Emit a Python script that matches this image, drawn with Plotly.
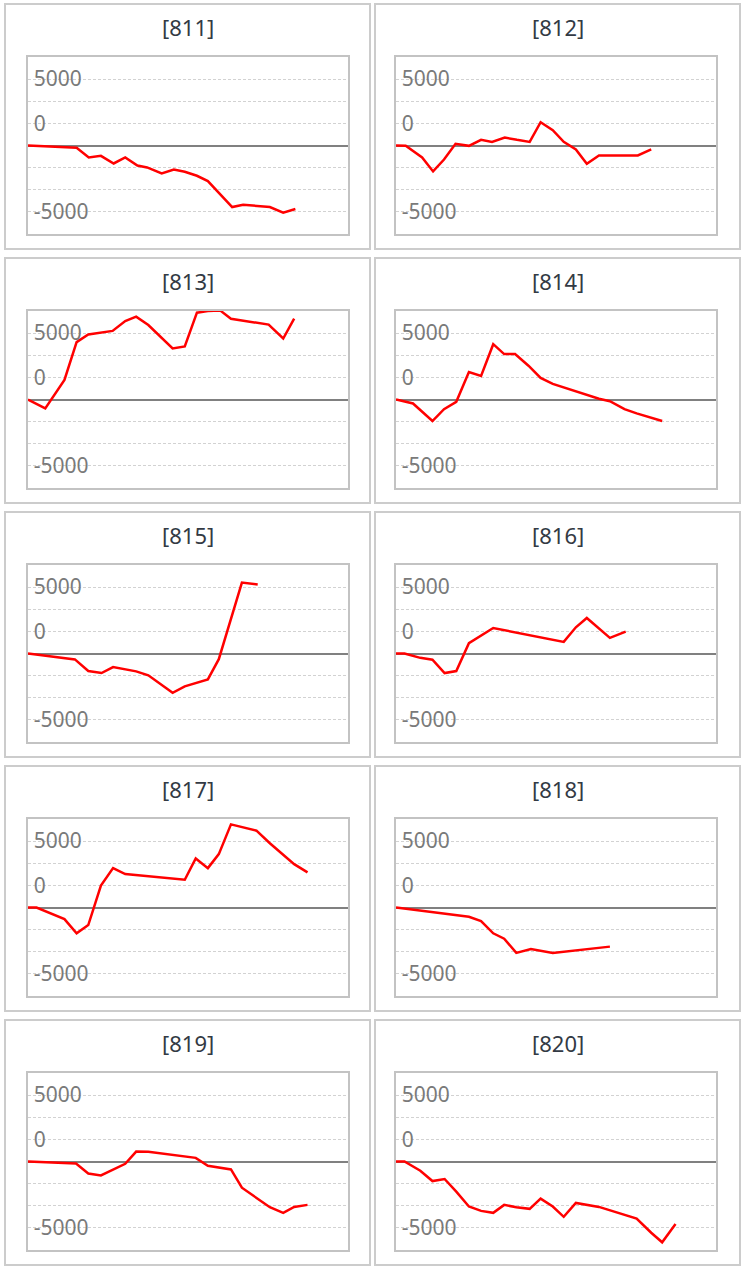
import plotly.graph_objects as go

# ---- data ----
panel_names = ["[811]", "[812]", "[813]", "[814]", "[815]",
               "[816]", "[817]", "[818]", "[819]", "[820]"]

x_811 = [0, 4, 5, 6, 7.05, 8, 9, 9.8, 11, 12, 12.9, 13.9, 14.8, 16.8, 17.7, 18.8, 19.9, 21, 22]
y_811 = [0, -260, -1350, -1170, -2030, -1350, -2260, -2480, -3160, -2710, -2970, -3420, -4020, -6950, -6690, -6840, -6950, -7590, -7180]

x_812 = [0, 0.8, 2.15, 3.05, 3.95, 4.9, 6, 7, 7.9, 8.95, 9.95, 11, 11.9, 12.9, 13.8, 14.8, 15.7, 16.7, 19.9, 21]
y_812 = [0, -40, -1350, -2930, -1580, 190, -40, 640, 410, 900, 640, 410, 2630, 1730, 410, -450, -2070, -1130, -1130, -450]

x_813 = [0, 1.42, 3, 4, 4.96, 6.96, 8, 8.9, 9.9, 11.9, 12.9, 13.9, 14.8, 15.8, 16.7, 19.8, 21, 21.9]
y_813 = [0, -1010, 2210, 6480, 7340, 7750, 8870, 9360, 8420, 5760, 5990, 9810, 9990, 10070, 9130, 8460, 6890, 9130]

x_814 = [0, 1.4, 3, 3.95, 4.96, 6, 7, 8, 8.9, 9.8, 10.9, 11.9, 12.9, 16.7, 17.6, 18.8, 19.8, 21.9]
y_814 = [0, -450, -2430, -1090, -260, 3110, 2660, 6250, 5130, 5130, 3820, 2430, 1760, 80, -190, -1090, -1570, -2430]

x_815 = [0, 3.86, 4.96, 6.05, 7, 8, 8.9, 9.9, 11.9, 12.9, 14.8, 15.7, 17.6, 18.9]
y_815 = [0, -670, -1980, -2210, -1540, -1800, -2020, -2470, -4450, -3710, -2920, -640, 8010, 7790]

x_816 = [0, 0.7, 2, 3, 4, 4.96, 6, 8, 13.8, 14.8, 15.7, 17.6, 18.9]
y_816 = [0, 0, -490, -710, -2210, -1980, 1160, 2880, 1310, 2960, 4010, 1760, 2470]

x_817 = [0, 0.7, 3, 4, 4.96, 6, 7, 8, 12.9, 13.8, 14.8, 15.7, 16.7, 18.8, 19.9, 21, 21.9, 23]
y_817 = [0, 0, -1310, -2920, -1980, 2470, 4450, 3780, 3140, 5540, 4450, 6030, 9390, 8680, 7260, 5950, 4900, 3970]

x_818 = [0, 6, 7, 8, 8.9, 9.9, 11.1, 12.9, 17.6]
y_818 = [0, -1050, -1540, -2920, -3520, -5130, -4680, -5130, -4420]

x_819 = [0, 3.95, 4.96, 6, 8, 8.9, 9.9, 13.8, 14.8, 16.7, 17.6, 18.8, 19.9, 21, 21.9, 23]
y_819 = [0, -230, -1350, -1570, -260, 1120, 1090, 410, -490, -900, -2960, -4150, -5170, -5800, -5130, -4900]

x_820 = [0, 0.7, 2, 3, 4, 4.96, 6, 7, 8, 8.9, 9.9, 11, 11.9, 12.9, 13.8, 14.8, 16.7, 19.8, 21, 21.9, 23]
y_820 = [0, 0, -1050, -2210, -1980, -3410, -5090, -5580, -5800, -4900, -5170, -5350, -4190, -5090, -6250, -4680, -5130, -6440, -8050, -9130, -7070]

xs = [x_811, x_812, x_813, x_814, x_815, x_816, x_817, x_818, x_819, x_820]
ys = [y_811, y_812, y_813, y_814, y_815, y_816, y_817, y_818, y_819, y_820]

tick_vals = [-7500, -5000, -2500, 0, 2500, 5000, 7500]
tick_text = ["-5000", "", "", "", "0", "", "5000"]

# ---- layout geometry (pixels) ----
W, H = 745, 1268
ROW_PITCH = 254
FONT = "Noto Sans"

fig = go.Figure()
layout = dict(
    width=W, height=H,
    margin=dict(l=0, r=0, t=0, b=0),
    paper_bgcolor="white", plot_bgcolor="white",
    showlegend=False,
    font=dict(family=FONT),
)
shapes = []
annotations = []

for i, name in enumerate(panel_names):
    r, c = divmod(i, 2)
    k = "" if i == 0 else str(i + 1)
    bx0, bx1 = (28, 348) if c == 0 else (396, 716)
    by0, by1 = 57 + ROW_PITCH * r, 234 + ROW_PITCH * r
    layout["xaxis" + k] = dict(
        domain=[bx0 / W, bx1 / W], anchor="y" + k,
        range=[0, 26.33], showgrid=False, zeroline=False,
        showticklabels=False, ticks="",
        showline=True, mirror=True, linecolor="#c3c3c3", linewidth=2,
        fixedrange=True,
    )
    layout["yaxis" + k] = dict(
        domain=[1 - by1 / H, 1 - by0 / H], anchor="x" + k,
        range=[-10000, 10000],
        tickmode="array", tickvals=tick_vals, ticktext=tick_text,
        ticks="", ticklabelposition="inside", ticklabelstandoff=7,
        tickfont=dict(family=FONT, size=21, color="#7a7a7a"),
        showgrid=True, gridcolor="#d2d2d2", gridwidth=1, griddash="3px,2px",
        zeroline=True, zerolinecolor="#808080", zerolinewidth=2,
        showline=True, mirror=True, linecolor="#c3c3c3", linewidth=2,
        fixedrange=True,
    )
    fig.add_trace(go.Scatter(
        x=xs[i], y=ys[i], mode="lines",
        line=dict(color="#ff0000", width=2.5),
        xaxis="x" + k, yaxis="y" + k, hoverinfo="skip",
    ))
    # panel frame
    px0, px1 = (5, 370) if c == 0 else (375, 740)
    py0, py1 = 4 + ROW_PITCH * r, 249 + ROW_PITCH * r
    shapes.append(dict(
        type="rect", xref="paper", yref="paper",
        x0=px0 / W, x1=px1 / W, y0=1 - py1 / H, y1=1 - py0 / H,
        line=dict(color="#cccccc", width=2), fillcolor="rgba(0,0,0,0)",
        layer="below",
    ))
    annotations.append(dict(
        text=name, xref="paper", yref="paper",
        x=(px0 + px1) / 2 / W, y=1 - (27 + ROW_PITCH * r) / H,
        xanchor="center", yanchor="middle", showarrow=False,
        font=dict(family=FONT, size=22, color="#333a44"),
    ))

layout["shapes"] = shapes
layout["annotations"] = annotations
fig.update_layout(**layout)
fig.write_html(
    "out.html",
    config={"displayModeBar": False},
    post_script="document.body.style.margin='0';document.body.style.padding='0';",
)
